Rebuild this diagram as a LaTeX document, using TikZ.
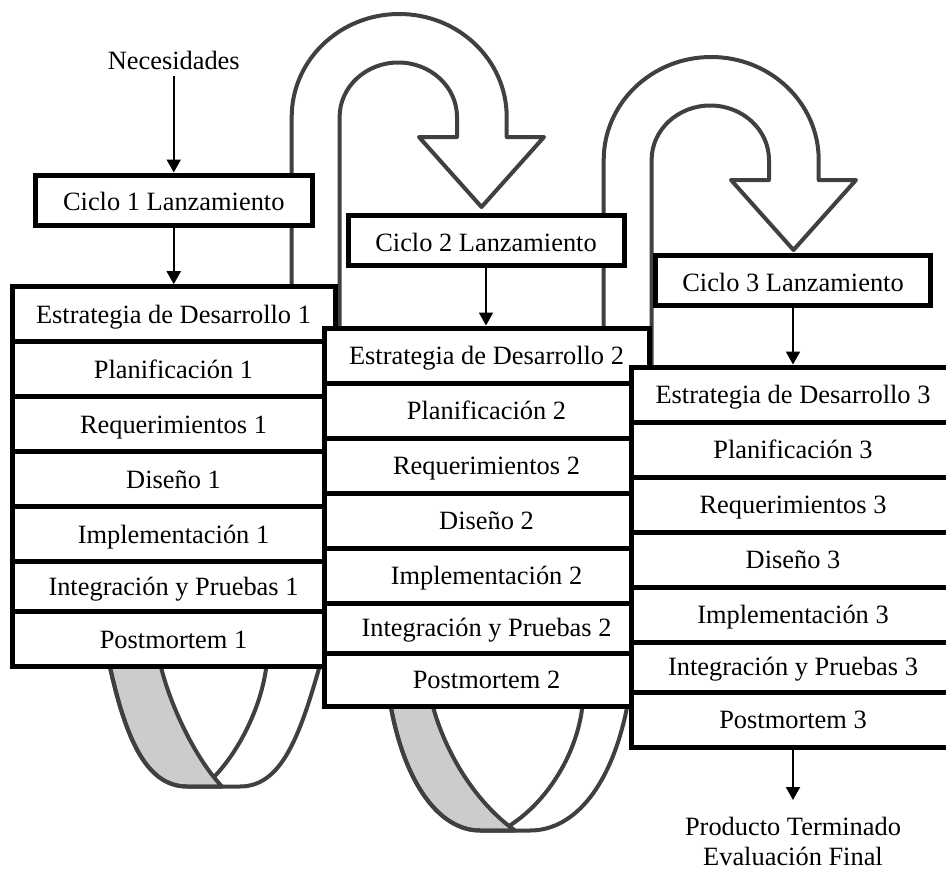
\documentclass[tikz,border=0pt]{standalone}
\usepackage{fontspec}
\setmainfont{Liberation Serif}
\usetikzlibrary{arrows.meta}
\definecolor{ribbonline}{RGB}{64,64,64}
\definecolor{ribbonback}{RGB}{204,204,204}
\newcommand\diagfont{\fontsize{26.4}{30}\selectfont}

\begin{document}
\begin{tikzpicture}[x=1pt,y=-1pt,
  rowbox/.style={draw=black, fill=white, line width=5pt, inner sep=0pt,
    text height=20pt, text depth=2.4pt, font=\diagfont},
  launchbox/.style={draw=black, fill=white, line width=5pt, inner sep=0pt,
    minimum height=50pt, text height=22pt, text depth=1pt, font=\diagfont},
  label/.style={inner sep=0pt, font=\diagfont, align=center},
  ribbonedge/.style={draw=ribbonline, line width=4pt, line join=round},
  flow/.style={draw=black, line width=2pt, -{Triangle[length=13pt,width=14pt]}},
  uturn/.pic={
    \filldraw[ribbonedge, fill=white]
      (291.7,420) -- (291.7,117)
      arc[start angle=180, end angle=360, x radius=107.5, y radius=103]
      -- (506.7,137) -- (544,137) -- (481.5,207) -- (419,137) -- (457,137)
      -- (457,117)
      arc[start angle=360, end angle=180, x radius=58.7, y radius=54.5]
      -- (339.6,420) -- cycle;
  }]

% page
\useasboundingbox (0,0) rectangle (946,870);
\clip (0,0) rectangle (946,870);
\fill[white] (0,0) rectangle (946,870);

% ribbon arches leading into the next cycle
\pic (arch1) at (0,0) {uturn};
\pic (arch2) at (312,43) {uturn};

% ribbon loops under the first two stacks
\filldraw[ribbonedge, fill=ribbonback]
  (109.5,665) .. controls (125,735) and (145,786.5) .. (187,786.5)
  -- (222,786.5) .. controls (195,758) and (170,705) .. (160.5,665) -- cycle;
\draw[ribbonedge]
  (109.5,665) .. controls (125,735) and (145,786.5) .. (187,786.5)
  -- (240,786.5) .. controls (282,786.5) and (300,735) .. (320,665);
\draw[ribbonedge] (266.5,665) .. controls (262,705) and (240,750) .. (214,777);

\filldraw[ribbonedge, fill=ribbonback]
  (390.5,705) .. controls (405,785) and (440,830.5) .. (480,830.5)
  -- (515,830.5) .. controls (475,802) and (445,752) .. (432.5,705) -- cycle;
\draw[ribbonedge]
  (390.5,705) .. controls (405,785) and (440,830.5) .. (480,830.5)
  -- (530,830.5) .. controls (575,830.5) and (612,785) .. (627.5,705);
\draw[ribbonedge] (582.5,705) .. controls (578,750) and (550,800) .. (509,826);

% launch boxes
\node[launchbox, minimum width=277.5pt] (c1) at (173.75,200) {Ciclo 1 Lanzamiento};
\node[launchbox, minimum width=276pt]   (c2) at (486,240.5)   {Ciclo 2 Lanzamiento};
\node[launchbox, minimum width=275pt]   (c3) at (793,280.5)   {Ciclo 3 Lanzamiento};

% cycle 1
\begin{scope}[rowbox/.append style={minimum width=323pt}]
\node[rowbox, minimum height=55pt] (s1a) at (173.5,314.2) {Estrategia de Desarrollo 1};
\node[rowbox, minimum height=55pt] (s1b) at (173.5,369.2) {Planificación 1};
\node[rowbox, minimum height=55pt] (s1c) at (173.5,424.2) {Requerimientos 1};
\node[rowbox, minimum height=55pt] (s1d) at (173.5,479.2) {Diseño 1};
\node[rowbox, minimum height=55pt] (s1e) at (173.5,534.2) {Implementación 1};
\node[rowbox, minimum height=50pt] (s1f) at (173.5,586.7) {Integración y Pruebas 1};
\node[rowbox, minimum height=55pt] (s1g) at (173.5,639.2) {Postmortem 1};
\end{scope}

% cycle 2
\begin{scope}[rowbox/.append style={minimum width=325pt}]
\node[rowbox, minimum height=55pt] (s2a) at (486.5,355.5) {Estrategia de Desarrollo 2};
\node[rowbox, minimum height=55pt] (s2b) at (486.5,410.5) {Planificación 2};
\node[rowbox, minimum height=55pt] (s2c) at (486.5,465.5) {Requerimientos 2};
\node[rowbox, minimum height=55pt] (s2d) at (486.5,520.5) {Diseño 2};
\node[rowbox, minimum height=55pt] (s2e) at (486.5,575.5) {Implementación 2};
\node[rowbox, minimum height=50pt] (s2f) at (486.5,628)   {Integración y Pruebas 2};
\node[rowbox, minimum height=53pt] (s2g) at (486.5,679.5) {Postmortem 2};
\end{scope}

% cycle 3
\begin{scope}[rowbox/.append style={minimum width=323pt}]
\node[rowbox, minimum height=55pt] (s3a) at (793,394.5) {Estrategia de Desarrollo 3};
\node[rowbox, minimum height=55pt] (s3b) at (793,449.5) {Planificación 3};
\node[rowbox, minimum height=55pt] (s3c) at (793,504.5) {Requerimientos 3};
\node[rowbox, minimum height=55pt] (s3d) at (793,559.5) {Diseño 3};
\node[rowbox, minimum height=55pt] (s3e) at (793,614.5) {Implementación 3};
\node[rowbox, minimum height=50pt] (s3f) at (793,667)   {Integración y Pruebas 3};
\node[rowbox, minimum height=55pt] (s3g) at (793,719.5) {Postmortem 3};
\end{scope}

% inputs and outputs
\node[label] (nec) at (173.75,60) {Necesidades};
\node[label, anchor=north] (prod) at (793,817) {Producto Terminado\\Evaluación Final};

% flow arrows
\draw[flow] ([yshift=-7pt]nec.south) -- (c1.north);
\draw[flow] (c1.south) -- (c1.south |- s1a.north);
\draw[flow] (c2.south) -- (c2.south |- s2a.north);
\draw[flow] (c3.south) -- (c3.south |- s3a.north);
\draw[flow, shorten >=17pt] (s3g.south) -- (prod.north);

\end{tikzpicture}
\end{document}
